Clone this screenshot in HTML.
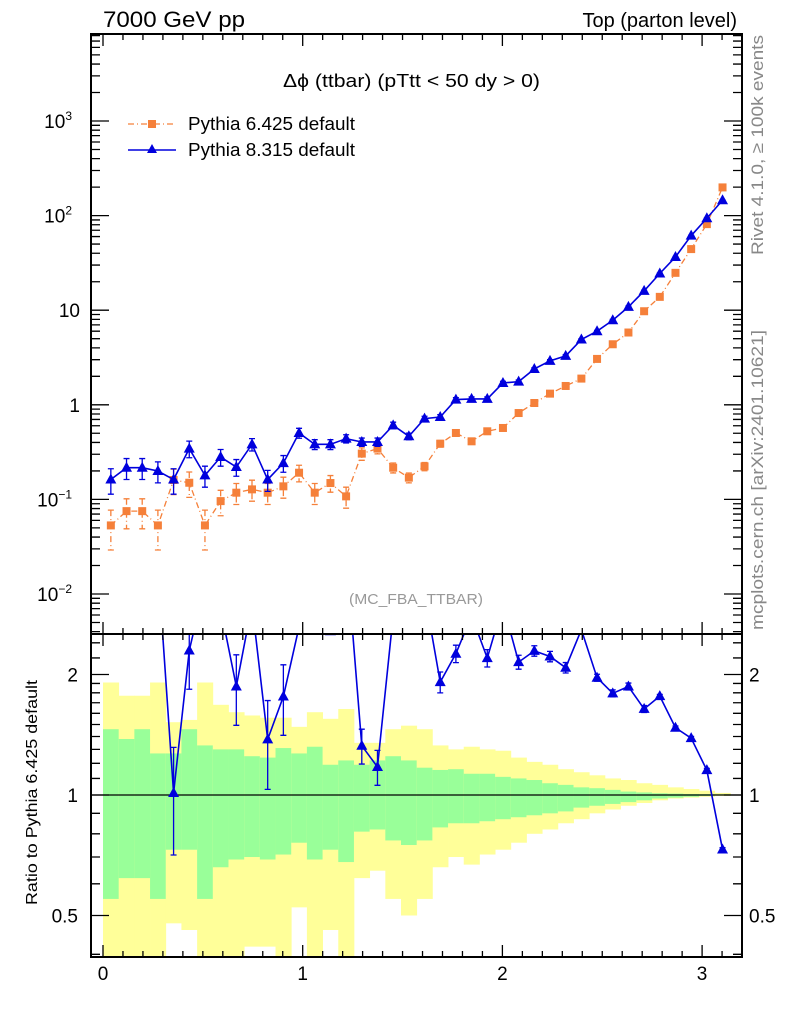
<!DOCTYPE html>
<html><head><meta charset="utf-8"><style>
body{margin:0;background:#fff}
svg text{font-family:"Liberation Sans",sans-serif}
</style></head><body>
<svg id="c" width="786" height="1024" viewBox="0 0 786 1024" xmlns="http://www.w3.org/2000/svg">
<defs>
<clipPath id="cm"><rect x="91" y="34" width="651" height="600"/></clipPath>
<clipPath id="cr"><rect x="91" y="634" width="651" height="323"/></clipPath>
</defs>
<g id="bands" clip-path="url(#cr)"></g>
<g id="marks"></g>
<g id="axes"></g>
<text x="103" y="27" font-size="22" textLength="142" lengthAdjust="spacingAndGlyphs">7000 GeV pp</text>
<text x="737" y="27" font-size="20" text-anchor="end">Top (parton level)</text>
<text x="283" y="87" font-size="18" textLength="257" lengthAdjust="spacingAndGlyphs">Δϕ (ttbar) (pTtt &lt; 50 dy &gt; 0)</text>
<text x="349" y="604" font-size="15" fill="#999" textLength="134" lengthAdjust="spacingAndGlyphs">(MC_FBA_TTBAR)</text>
<text transform="translate(763,255) rotate(-90)" font-size="17" fill="#888" textLength="220" lengthAdjust="spacingAndGlyphs">Rivet 4.1.0, ≥ 100k events</text>
<text transform="translate(763,630) rotate(-90)" font-size="17" fill="#888" textLength="300" lengthAdjust="spacingAndGlyphs">mcplots.cern.ch [arXiv:2401.10621]</text>
<text transform="translate(37,905) rotate(-90)" font-size="16" textLength="225" lengthAdjust="spacingAndGlyphs">Ratio to Pythia 6.425 default</text>
<g>
<g>
<line x1="128" y1="124" x2="176" y2="124" stroke="#f5803a" stroke-width="1.3" stroke-dasharray="6,3,1,3"/>
<rect x="148" y="120" width="8" height="8" fill="#f5803a"/>
<text x="188" y="130" font-size="18" textLength="167" lengthAdjust="spacingAndGlyphs">Pythia 6.425 default</text></g>
<g>
<line x1="128" y1="150" x2="176" y2="150" stroke="#0000dd" stroke-width="1.5"/>
<path d="M152,144 L157,153 L147,153Z" fill="#0000dd"/>
<text x="188" y="156" font-size="18" textLength="167" lengthAdjust="spacingAndGlyphs">Pythia 8.315 default</text></g>
</g>
</svg>
<script>
// Data: log10 values per bin (40 bins, 0..pi)
const p6Log=[-1.275,-1.124,-1.124,-1.275,-0.795,-0.824,-1.275,-1.018,-0.929,-0.894,-0.929,-0.862,-0.718,-0.929,-0.827,-0.968,-0.516,-0.463,-0.665,-0.770,-0.651,-0.411,-0.298,-0.386,-0.280,-0.245,-0.087,0.019,0.118,0.199,0.277,0.485,0.640,0.764,0.989,1.141,1.395,1.646,1.910,2.298];
const p8Log=[-0.79,-0.665,-0.665,-0.70,-0.79,-0.463,-0.746,-0.552,-0.658,-0.418,-0.79,-0.616,-0.298,-0.418,-0.418,-0.358,-0.393,-0.393,-0.217,-0.333,-0.146,-0.129,0.055,0.062,0.062,0.231,0.245,0.379,0.464,0.517,0.690,0.778,0.894,1.035,1.204,1.388,1.563,1.788,1.972,2.162];
const p6Err=[0.45,0.35,0.35,0.45,0.3,0.3,0.45,0.3,0.25,0.25,0.25,0.25,0.2,0.25,0.2,0.25,0.15,0.12,0.12,0.12,0.1,0.08,0.07,0.07,0.06,0.05,0.05,0.04,0.04,0.03,0.03,0.03,0.02,0.02,0.02,0.02,0.01,0.01,0.01,0.01];
const p8Err=[0.3,0.25,0.25,0.25,0.3,0.2,0.25,0.2,0.2,0.15,0.25,0.2,0.12,0.12,0.12,0.1,0.1,0.1,0.08,0.08,0.06,0.06,0.05,0.05,0.05,0.04,0.04,0.03,0.03,0.03,0.02,0.02,0.02,0.02,0.02,0.01,0.01,0.01,0.01,0.01];
const greenUp=[1.46,1.38,1.46,1.27,1.27,1.46,1.33,1.30,1.30,1.25,1.24,1.31,1.27,1.32,1.19,1.22,1.19,1.22,1.25,1.22,1.17,1.155,1.16,1.13,1.13,1.11,1.10,1.09,1.07,1.06,1.045,1.04,1.03,1.02,1.015,1.01,1.008,1.006,1.005,1.004];
const greenLo=[0.55,0.62,0.62,0.55,0.73,0.73,0.55,0.66,0.69,0.70,0.69,0.71,0.76,0.69,0.73,0.68,0.81,0.82,0.77,0.75,0.77,0.83,0.85,0.85,0.86,0.87,0.88,0.89,0.90,0.91,0.93,0.94,0.95,0.96,0.97,0.98,0.985,0.99,0.995,0.997];
const yellowUp=[1.91,1.77,1.77,1.91,1.52,1.54,1.91,1.68,1.61,1.58,1.56,1.56,1.48,1.61,1.55,1.64,1.35,1.35,1.46,1.49,1.46,1.33,1.30,1.32,1.30,1.29,1.24,1.21,1.19,1.16,1.14,1.12,1.10,1.09,1.07,1.06,1.045,1.035,1.025,1.012];
const yellowLo=[0.3,0.3,0.3,0.3,0.478,0.46,0.3,0.3,0.3,0.418,0.418,0.3,0.524,0.3,0.46,0.3,0.62,0.647,0.55,0.50,0.55,0.66,0.70,0.67,0.71,0.73,0.76,0.80,0.82,0.85,0.87,0.90,0.92,0.94,0.955,0.97,0.98,0.985,0.99,0.995];
const xTicks=[0,1,2,3];
const mainTicks=[-2,-1,0,1,2,3];
const mainTickLabels=["10<tspan dy='-8' font-size='12'>−2</tspan>","10<tspan dy='-8' font-size='12'>−1</tspan>","1","10","10<tspan dy='-8' font-size='12'>2</tspan>","10<tspan dy='-8' font-size='12'>3</tspan>"];
const ratioTicks=[0.5,1,2];
const ratioTickLabels=["0.5","1","2"];

const NS="http://www.w3.org/2000/svg";
const N=p6Log.length, W=Math.PI/N;
const X=v=>103+v*199.7;
const Y=l=>404.8-l*94.6;
const R=r=>795-Math.log10(r)*400.3;
const RMAX=2.55;
function mk(parent,tag,attrs){const e=document.createElementNS(NS,tag);for(const k in attrs)e.setAttribute(k,attrs[k]);parent.appendChild(e);return e;}
const bands=document.getElementById('bands'),marks=document.getElementById('marks'),axes=document.getElementById('axes');

for(let i=0;i<N;i++){
  const x0=X(i*W),x1=X((i+1)*W);
  let e=mk(bands,'rect',{x:x0,y:R(yellowUp[i]),width:x1-x0+0.4,height:R(yellowLo[i])-R(yellowUp[i]),fill:'#ffff99'});
  
  
  e=mk(bands,'rect',{x:x0,y:R(greenUp[i]),width:x1-x0+0.4,height:R(greenLo[i])-R(greenUp[i]),fill:'#99ff99'});
  
  
}
let e=mk(bands,'line',{x1:91,x2:742,y1:R(1),y2:R(1),stroke:'#000','stroke-width':1.2});



const gm=mk(marks,'g',{'clip-path':'url(#cm)'});
const gr=mk(marks,'g',{'clip-path':'url(#cr)'});
function series(vals,errs,color,dash,tri,name){
  let pts=[];
  for(let i=0;i<N;i++){
    const x=X((i+0.5)*W),y=Y(vals[i]);pts.push(x+','+y);
    const v=Math.pow(10,vals[i]);
    const ey1=Y(Math.log10(v*(1+errs[i]))),ey2=Y(Math.log10(v*Math.max(0.05,1-errs[i])));
    let b=mk(gm,'path',{d:`M${x},${ey1}V${ey2}M${x-3},${ey1}H${x+3}M${x-3},${ey2}H${x+3}`,stroke:color,'stroke-width':1.3,fill:'none','stroke-dasharray':dash||'none'});
    
    
  }
  let l=mk(gm,'polyline',{points:pts.join(' '),fill:'none',stroke:color,'stroke-width':tri?1.6:1.3,'stroke-dasharray':dash||'none'});
  
  
  for(let i=0;i<N;i++){
    const x=X((i+0.5)*W),y=Y(vals[i]);
    let m=tri?mk(gm,'path',{d:`M${x},${y-6}L${x+5.5},${y+4}L${x-5.5},${y+4}Z`,fill:color}):mk(gm,'rect',{x:x-4,y:y-4,width:8,height:8,fill:color});
    
    
  }
}
series(p6Log,p6Err,'#f5803a','6,3,1,3',false,'pythia6');
series(p8Log,p8Err,'#0000dd',null,true,'pythia8');
// ratio series
let rp=[];
for(let i=0;i<N;i++){
  const x=X((i+0.5)*W),r=Math.pow(10,p8Log[i]-p6Log[i]),y=R(r);rp.push(x+','+y);
  if(r>RMAX)continue;
  const y1=R(r*(1+p8Err[i])),y2=R(r*(1-p8Err[i]));
  let b=mk(gr,'path',{d:`M${x},${y1}V${y2}M${x-3},${y1}H${x+3}M${x-3},${y2}H${x+3}`,stroke:'#0000dd','stroke-width':1.3,fill:'none'});
  
  
}
e=mk(gr,'polyline',{points:rp.join(' '),fill:'none',stroke:'#0000dd','stroke-width':1.6});


for(let i=0;i<N;i++){
  const x=X((i+0.5)*W),y=R(Math.pow(10,p8Log[i]-p6Log[i]));
  let m=mk(gr,'path',{d:`M${x},${y-6}L${x+5.5},${y+4}L${x-5.5},${y+4}Z`,fill:'#0000dd'});
  
  
}

// frames
e=mk(axes,'rect',{x:91,y:34,width:651,height:600,fill:'none',stroke:'#000','stroke-width':2});


e=mk(axes,'rect',{x:91,y:634,width:651,height:323,fill:'none',stroke:'#000','stroke-width':2});


let d='';
for(let t=0;t<=3.2;t+=0.1){
  const x=X(t),maj=Math.abs(t-Math.round(t))<0.01,len=maj?12:6;
  d+=`M${x},634V${634-len}M${x},34V${34+len}M${x},957V${957-len}M${x},634V${634+len}`;
}
for(let dcd=-3;dcd<=3;dcd++){
  for(let k=1;k<10;k++){
    const y=Y(dcd+Math.log10(k));
    if(y<34||y>634)continue;
    const len=k==1?18:9;
    d+=`M91,${y}H${91+len}M742,${y}H${742-len}`;
  }
}
const rt=[0.4,0.5,0.6,0.7,0.8,0.9,1,1.1,1.2,1.3,1.4,1.5,1.6,1.7,1.8,1.9,2,2.2,2.4];
rt.forEach(r=>{const y=R(r),maj=ratioTicks.includes(r),len=maj?18:9;d+=`M91,${y}H${91+len}M742,${y}H${742-len}`;});
e=mk(axes,'path',{d:d,stroke:'#000','stroke-width':1.3,fill:'none'});


xTicks.forEach(t=>{let tx=mk(axes,'text',{x:X(t),y:980,'font-size':19,'text-anchor':'middle'});tx.textContent=t;

});
mainTicks.forEach((t,i)=>{let tx=mk(axes,'text',{x:t>=0&&t<=1?80:72,y:Y(t)+7,'font-size':19,'text-anchor':'end'});tx.innerHTML=mainTickLabels[i];

});
ratioTicks.forEach((t,i)=>{
  let tx=mk(axes,'text',{x:78,y:R(t)+7,'font-size':19,'text-anchor':'end'});tx.textContent=ratioTickLabels[i];
  
  
  let t2=mk(axes,'text',{x:749,y:R(t)+7,'font-size':19});t2.textContent=ratioTickLabels[i];
  
  
});
</script>
</body></html>
